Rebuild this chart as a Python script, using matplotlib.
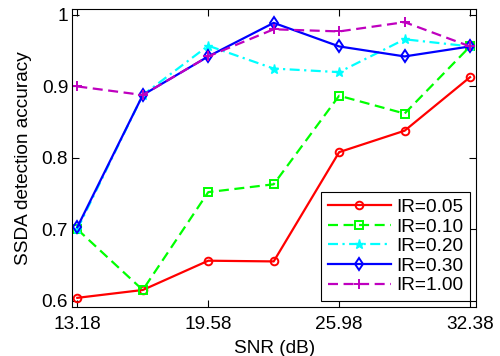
import matplotlib
matplotlib.use("Agg")
import matplotlib.pyplot as plt

snr = [13.18, 16.38, 19.58, 22.78, 25.98, 29.18, 32.38]
xticks = [13.18, 19.58, 25.98, 32.38]
yticks = [0.6, 0.7, 0.8, 0.9, 1.0]
ytick_labels = ["0.6", "0.7", "0.8", "0.9", "1"]

ir005 = [0.604, 0.615, 0.656, 0.655, 0.808, 0.838, 0.913]
ir010 = [0.700, 0.615, 0.752, 0.763, 0.887, 0.862, 0.956]
ir020 = [0.700, 0.888, 0.957, 0.925, 0.920, 0.966, 0.956]
ir030 = [0.703, 0.888, 0.942, 0.989, 0.956, 0.942, 0.956]
ir100 = [0.900, 0.888, 0.942, 0.980, 0.977, 0.990, 0.956]

plt.rcParams['font.family'] = ['Liberation Sans', 'DejaVu Sans']
fs = 13.7

fig = plt.figure(figsize=(5.0, 3.56), dpi=100)
ax = fig.add_axes([72.3/500, 1 - 306.7/356, (476-72.3)/500, (306.7-9)/356])

lw = 1.6
ax.plot(snr, ir005, color=(1, 0, 0), ls='-', lw=lw, marker='o', ms=5.5, mfc='none', mew=1.4, label='IR=0.05')
ax.plot(snr, ir010, color=(0, 1, 0), ls=(0, (4.5, 2.5)), lw=lw, marker='s', ms=5.5, mfc='none', mew=1.4, label='IR=0.10')
ax.plot(snr, ir020, color=(0, 1, 1), ls=(0, (4.5, 2, 1, 2)), lw=lw, marker='*', ms=6.5, mew=1.0, label='IR=0.20')
ax.plot(snr, ir030, color=(0, 0, 1), ls='-', lw=lw, marker='d', ms=6.5, mfc='none', mew=1.4, label='IR=0.30')
ax.plot(snr, ir100, color=(0.75, 0, 0.75), ls=(0, (4.5, 2.5)), lw=lw, marker='+', ms=6.5, mew=1.4, label='IR=1.00')

ax.set_xlim(12.935, 32.67)
ax.set_ylim(0.5916, 1.0084)
ax.set_xticks(xticks)
ax.set_xticklabels([f"{v:.2f}" for v in xticks])
ax.set_yticks(yticks)
ax.set_yticklabels(ytick_labels)
ax.tick_params(direction='in', top=True, right=True, length=5, width=0.8, labelsize=fs)
ax.tick_params(axis='x', pad=7)
ax.tick_params(axis='y', pad=3)
for s in ax.spines.values():
    s.set_linewidth(0.8)

ax.set_xlabel('SNR (dB)', fontsize=fs, labelpad=5)
ax.set_ylabel('SSDA detection accuracy', fontsize=fs, labelpad=7)

leg = ax.legend(loc='lower right', fontsize=fs, frameon=True, fancybox=False,
                edgecolor='black', framealpha=1, handlelength=3.3, borderpad=0.35,
                labelspacing=0.12, handletextpad=0.3, borderaxespad=0.3)
leg.get_frame().set_linewidth(0.8)

fig.savefig('out.png', dpi=100)
